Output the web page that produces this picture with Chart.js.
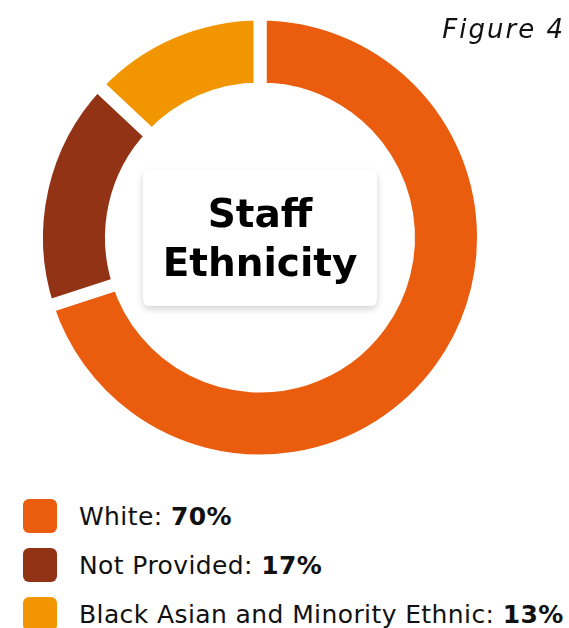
<!DOCTYPE html>
<html>
<head>
<meta charset="utf-8">
<title>Staff Ethnicity</title>
<script src="https://cdn.jsdelivr.net/npm/chart.js@4.4.1/dist/chart.umd.min.js"></script>
<style>
  body {
    margin: 0;
    width: 569px;
    height: 628px;
    overflow: hidden;
    position: relative;
    background: #fff;
    font-family: "DejaVu Sans", sans-serif;
    color: #111;
  }
  #wrap { position: absolute; left: 0; top: 0; width: 520px; height: 475px; }
  #fig {
    position: absolute; right: 4px; top: 14px;
    font-style: italic; font-size: 26px; letter-spacing: 2px;
  }
  #centre {
    position: absolute; left: 143px; top: 170px;
    width: 234px; height: 136px;
    background: #fff; border-radius: 6px;
    box-shadow: 0 3px 7px rgba(0, 0, 0, 0.18);
    display: flex; align-items: center; justify-content: center;
    text-align: center; font-weight: 700; font-size: 39px; line-height: 49px;
    color: #000;
  }
  #legend { position: absolute; left: 23px; top: 499px; }
  .row {
    display: flex; align-items: center;
    height: 34px; margin-bottom: 15px;
    font-size: 25px; letter-spacing: 0.4px; white-space: nowrap;
  }
  .sw { width: 34px; height: 34px; border-radius: 6px; margin-right: 22px; flex: none; }
</style>
</head>
<body>
<div id="wrap"><canvas id="ethnicity" width="520" height="475"></canvas></div>
<div id="fig">Figure 4</div>
<div id="centre">Staff<br>Ethnicity</div>
<div id="legend"></div>

<script>
// percentuais por grupo
const categorias = ['White', 'Not Provided', 'Black Asian and Minority Ethnic'];
const valores = [70, 17, 13];
const cores = ['#EA5C0E', '#933316', '#F19600'];

// legenda feita a mao (o valor vai em negrito)
const legenda = document.getElementById('legend');
categorias.forEach((nome, i) => {
  const row = document.createElement('div');
  row.className = 'row';
  row.innerHTML = '<span class="sw" style="background:' + cores[i] + '"></span>' +
    '<span>' + nome + ': <b>' + valores[i] + '%</b></span>';
  legenda.appendChild(row);
});

const ctx = document.getElementById('ethnicity').getContext('2d');

const grafico = new Chart(ctx, {
  type: 'doughnut',
  data: {
    labels: categorias,
    datasets: [{
      data: valores,
      backgroundColor: cores,
      borderColor: '#ffffff',
      borderWidth: 13,
      borderJoinStyle: 'miter',
      hoverOffset: 0
    }]
  },
  options: {
    responsive: false,
    animation: false,
    radius: 223.5,
    cutout: '66.44%',
    layout: { padding: 0 },
    plugins: {
      legend: { display: false },
      tooltip: { enabled: false }
    }
  }
});
</script>
</body>
</html>
